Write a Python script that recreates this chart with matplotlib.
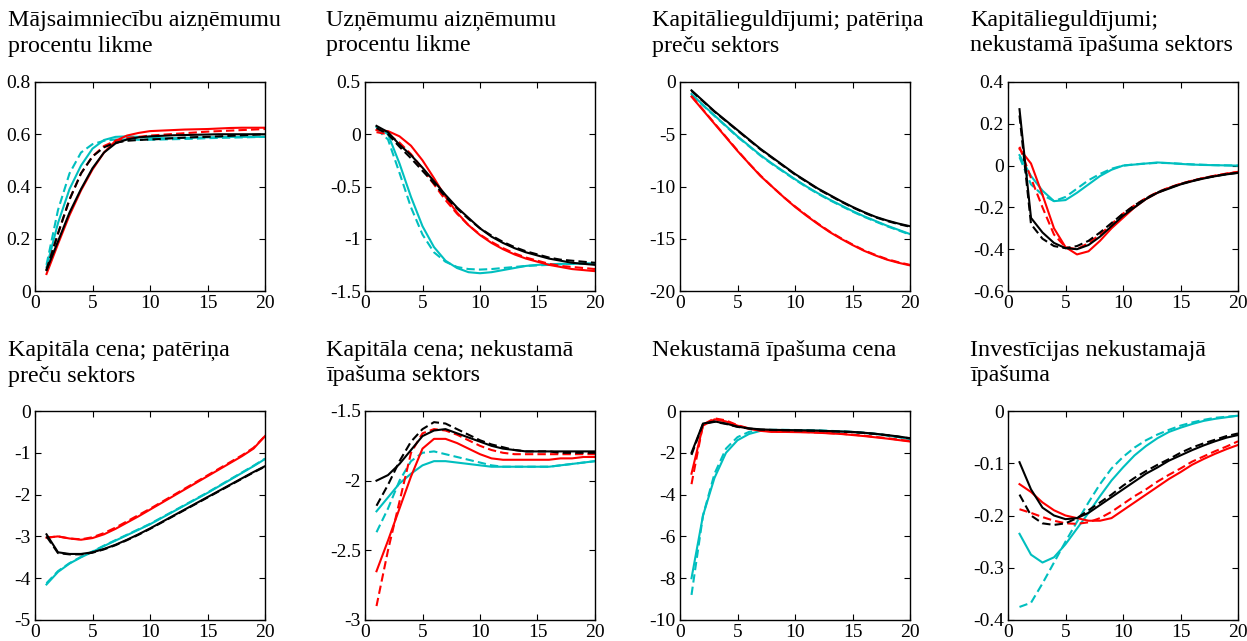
import matplotlib

matplotlib.use("Agg")
import matplotlib.pyplot as plt  # noqa: E402

plt.rcParams["font.family"] = ["Liberation Serif", "DejaVu Serif"]

X = list(range(1, 21))

TITLES = [
    "Mājsaimniecību aizņēmumu\nprocentu likme",
    "Uzņēmumu aizņēmumu\nprocentu likme",
    "Kapitālieguldījumi; patēriņa\npreču sektors",
    "Kapitālieguldījumi;\nnekustamā īpašuma sektors",
    "Kapitāla cena; patēriņa\npreču sektors",
    "Kapitāla cena; nekustamā\nīpašuma sektors",
    "Nekustamā īpašuma cena",
    "Investīcijas nekustamajā\nīpašuma",
]

YLIMS = [(0, 0.8), (-1.5, 0.5), (-20, 0), (-0.6, 0.4),
         (-5, 0), (-3, -1.5), (-10, 0), (-0.4, 0)]
YTICKS = [
    [0, 0.2, 0.4, 0.6, 0.8],
    [-1.5, -1, -0.5, 0, 0.5],
    [-20, -15, -10, -5, 0],
    [-0.6, -0.4, -0.2, 0, 0.2, 0.4],
    [-5, -4, -3, -2, -1, 0],
    [-3, -2.5, -2, -1.5],
    [-10, -8, -6, -4, -2, 0],
    [-0.4, -0.3, -0.2, -0.1, 0],
]
YTICKLABELS = [
    ["0", "0.2", "0.4", "0.6", "0.8"],
    ["-1.5", "-1", "-0.5", "0", "0.5"],
    ["-20", "-15", "-10", "-5", "0"],
    ["-0.6", "-0.4", "-0.2", "0", "0.2", "0.4"],
    ["-5", "-4", "-3", "-2", "-1", "0"],
    ["-3", "-2.5", "-2", "-1.5"],
    ["-10", "-8", "-6", "-4", "-2", "0"],
    ["-0.4", "-0.3", "-0.2", "-0.1", "0"],
]

# panel 1: household lending rate
p1_black = [0.08, 0.19, 0.30, 0.39, 0.47, 0.53, 0.565, 0.58, 0.588, 0.592,
            0.594, 0.596, 0.597, 0.598, 0.599, 0.60, 0.60, 0.60, 0.60, 0.60]
p1_black_d = [0.08, 0.22, 0.35, 0.45, 0.515, 0.55, 0.568, 0.575, 0.578, 0.58,
              0.582, 0.585, 0.587, 0.589, 0.59, 0.592, 0.594, 0.596, 0.598, 0.60]
p1_red = [0.065, 0.18, 0.29, 0.385, 0.465, 0.53, 0.575, 0.595, 0.605, 0.612,
          0.614, 0.616, 0.618, 0.619, 0.62, 0.622, 0.624, 0.625, 0.625, 0.625]
p1_red_d = [0.08, 0.22, 0.35, 0.45, 0.515, 0.555, 0.575, 0.585, 0.59, 0.595,
            0.598, 0.601, 0.604, 0.607, 0.61, 0.612, 0.614, 0.616, 0.618, 0.62]
p1_cyan = [0.09, 0.26, 0.39, 0.48, 0.545, 0.578, 0.59, 0.592, 0.59, 0.586,
           0.585, 0.585, 0.586, 0.587, 0.588, 0.589, 0.59, 0.59, 0.59, 0.59]
p1_cyan_d = [0.1, 0.31, 0.45, 0.53, 0.562, 0.575, 0.58, 0.58, 0.579, 0.579,
             0.58, 0.581, 0.582, 0.583, 0.585, 0.586, 0.587, 0.588, 0.589, 0.59]

# panel 2: corporate lending rate
p2_black = [0.08, 0.02, -0.1, -0.2, -0.32, -0.45, -0.58, -0.7, -0.8, -0.9,
            -0.98, -1.04, -1.09, -1.13, -1.16, -1.19, -1.21, -1.23, -1.24, -1.25]
p2_black_d = [0.06, 0.0, -0.12, -0.23, -0.35, -0.47, -0.6, -0.71, -0.81, -0.9,
              -0.97, -1.03, -1.08, -1.12, -1.15, -1.18, -1.2, -1.21, -1.22, -1.23]
p2_red = [0.04, 0.03, -0.02, -0.11, -0.25, -0.42, -0.6, -0.75, -0.87, -0.965,
          -1.04, -1.1, -1.15, -1.19, -1.22, -1.25, -1.27, -1.29, -1.3, -1.31]
p2_red_d = [0.02, 0.0, -0.08, -0.19, -0.33, -0.48, -0.63, -0.76, -0.87, -0.96,
            -1.03, -1.09, -1.14, -1.18, -1.21, -1.24, -1.26, -1.27, -1.28, -1.29]
p2_cyan = [0.07, 0.0, -0.28, -0.6, -0.88, -1.08, -1.21, -1.28, -1.32, -1.33,
           -1.32, -1.3, -1.28, -1.26, -1.25, -1.245, -1.24, -1.24, -1.235, -1.235]
p2_cyan_d = [0.05, -0.05, -0.37, -0.7, -0.96, -1.13, -1.22, -1.27, -1.29, -1.295,
             -1.29, -1.28, -1.27, -1.26, -1.255, -1.25, -1.245, -1.24, -1.24, -1.24]

# panel 3: investment, consumption goods sector
p3_black = [-0.8, -1.8, -2.8, -3.7, -4.6, -5.5, -6.4, -7.2, -8.0, -8.8,
            -9.5, -10.2, -10.8, -11.4, -11.95, -12.45, -12.9, -13.25, -13.55, -13.8]
p3_black_d = [-0.85, -1.85, -2.85, -3.75, -4.65, -5.55, -6.45, -7.25, -8.05, -8.85,
              -9.55, -10.25, -10.85, -11.45, -12.0, -12.5, -12.95, -13.3, -13.6, -13.85]
p3_red = [-1.4, -2.7, -4.0, -5.3, -6.6, -7.8, -9.0, -10.0, -11.0, -11.95,
          -12.8, -13.6, -14.35, -15.0, -15.6, -16.15, -16.6, -17.0, -17.3, -17.55]
p3_red_d = [-1.35, -2.65, -3.95, -5.25, -6.55, -7.8, -8.95, -10.0, -11.0, -11.9,
            -12.75, -13.55, -14.3, -14.95, -15.55, -16.1, -16.55, -16.95, -17.25, -17.5]
p3_cyan = [-1.15, -2.2, -3.2, -4.2, -5.2, -6.1, -7.0, -7.8, -8.55, -9.3,
           -10.0, -10.65, -11.25, -11.8, -12.35, -12.85, -13.3, -13.75, -14.15, -14.55]
p3_cyan_d = [-1.2, -2.25, -3.25, -4.25, -5.25, -6.15, -7.05, -7.85, -8.6, -9.35,
             -10.05, -10.7, -11.3, -11.85, -12.4, -12.9, -13.35, -13.8, -14.2, -14.6]

# panel 4: investment, housing sector
p4_black = [0.27, -0.25, -0.32, -0.37, -0.395, -0.4, -0.38, -0.34, -0.29, -0.24,
            -0.2, -0.16, -0.13, -0.11, -0.09, -0.075, -0.062, -0.051, -0.042, -0.035]
p4_black_d = [0.24, -0.28, -0.35, -0.385, -0.395, -0.385, -0.36, -0.32, -0.275, -0.23,
              -0.19, -0.157, -0.128, -0.107, -0.088, -0.073, -0.06, -0.05, -0.041, -0.034]
p4_red = [0.08, 0.01, -0.14, -0.3, -0.39, -0.425, -0.41, -0.36, -0.3, -0.25,
          -0.2, -0.16, -0.13, -0.107, -0.088, -0.073, -0.06, -0.049, -0.039, -0.03]
p4_red_d = [0.09, -0.06, -0.2, -0.33, -0.39, -0.4, -0.37, -0.33, -0.28, -0.23,
            -0.19, -0.155, -0.127, -0.105, -0.087, -0.072, -0.059, -0.048, -0.038, -0.03]
p4_cyan = [0.05, -0.05, -0.12, -0.17, -0.165, -0.13, -0.09, -0.05, -0.02, 0.0,
           0.005, 0.01, 0.015, 0.012, 0.008, 0.005, 0.003, 0.002, 0.001, 0.0]
p4_cyan_d = [0.04, -0.09, -0.14, -0.17, -0.15, -0.11, -0.07, -0.04, -0.015, 0.0,
             0.006, 0.01, 0.013, 0.012, 0.009, 0.006, 0.004, 0.002, 0.001, 0.0]

# panel 5: price of capital, consumption goods sector
p5_black = [-2.95, -3.38, -3.42, -3.42, -3.38, -3.3, -3.2, -3.08, -2.95, -2.81,
            -2.66, -2.51, -2.36, -2.21, -2.06, -1.91, -1.76, -1.61, -1.46, -1.32]
p5_black_d = [-3.0, -3.4, -3.43, -3.43, -3.39, -3.31, -3.21, -3.09, -2.96, -2.82,
              -2.67, -2.52, -2.37, -2.22, -2.07, -1.92, -1.77, -1.62, -1.47, -1.33]
p5_red = [-3.03, -3.0, -3.05, -3.08, -3.04, -2.95, -2.82, -2.67, -2.52, -2.36,
          -2.2, -2.04, -1.88, -1.72, -1.56, -1.4, -1.24, -1.08, -0.9, -0.6]
p5_red_d = [-3.03, -3.0, -3.05, -3.07, -3.02, -2.92, -2.79, -2.64, -2.49, -2.34,
            -2.18, -2.02, -1.86, -1.7, -1.54, -1.38, -1.22, -1.06, -0.88, -0.6]
p5_cyan = [-4.15, -3.85, -3.65, -3.5, -3.37, -3.23, -3.1, -2.97, -2.84, -2.71,
           -2.56, -2.41, -2.26, -2.11, -1.96, -1.8, -1.64, -1.48, -1.32, -1.15]
p5_cyan_d = [-4.12, -3.83, -3.64, -3.49, -3.36, -3.22, -3.09, -2.96, -2.83, -2.7,
             -2.55, -2.4, -2.25, -2.1, -1.95, -1.79, -1.63, -1.47, -1.31, -1.14]

# panel 6: price of capital, housing sector
p6_black = [-2.0, -1.96, -1.88, -1.78, -1.68, -1.64, -1.63, -1.66, -1.69, -1.72,
            -1.75, -1.77, -1.78, -1.79, -1.79, -1.79, -1.79, -1.79, -1.79, -1.79]
p6_black_d = [-2.18, -2.03, -1.86, -1.72, -1.63, -1.58, -1.59, -1.63, -1.67, -1.71,
              -1.74, -1.76, -1.78, -1.79, -1.79, -1.79, -1.8, -1.8, -1.8, -1.8]
p6_red = [-2.65, -2.43, -2.2, -1.97, -1.77, -1.7, -1.7, -1.73, -1.77, -1.81,
          -1.84, -1.85, -1.85, -1.85, -1.85, -1.85, -1.84, -1.84, -1.83, -1.83]
p6_red_d = [-2.9, -2.5, -2.15, -1.8, -1.66, -1.63, -1.64, -1.67, -1.71, -1.75,
            -1.78, -1.8, -1.81, -1.81, -1.81, -1.81, -1.81, -1.81, -1.81, -1.81]
p6_cyan = [-2.22, -2.12, -2.02, -1.95, -1.89, -1.86, -1.86, -1.87, -1.88, -1.89,
           -1.9, -1.9, -1.9, -1.9, -1.9, -1.9, -1.89, -1.88, -1.87, -1.86]
p6_cyan_d = [-2.37, -2.2, -2.0, -1.86, -1.8, -1.79, -1.81, -1.83, -1.85, -1.87,
             -1.89, -1.9, -1.9, -1.9, -1.9, -1.9, -1.89, -1.88, -1.87, -1.86]

# panel 7: house price
p7_black = [-2.0, -0.6, -0.5, -0.6, -0.75, -0.83, -0.88, -0.9, -0.91, -0.92,
            -0.93, -0.94, -0.96, -0.98, -1.0, -1.04, -1.09, -1.15, -1.22, -1.3]
p7_black_d = [-2.1, -0.62, -0.52, -0.62, -0.76, -0.84, -0.89, -0.91, -0.92, -0.93,
              -0.94, -0.95, -0.97, -0.99, -1.01, -1.05, -1.1, -1.16, -1.23, -1.31]
p7_red = [-3.0, -0.7, -0.4, -0.5, -0.7, -0.85, -0.95, -1.0, -1.0, -1.01,
          -1.02, -1.04, -1.07, -1.1, -1.15, -1.2, -1.26, -1.32, -1.39, -1.46]
p7_red_d = [-3.5, -0.65, -0.35, -0.45, -0.68, -0.83, -0.93, -0.98, -0.99, -1.0,
            -1.01, -1.03, -1.06, -1.09, -1.13, -1.18, -1.24, -1.3, -1.37, -1.44]
p7_cyan = [-8.0, -5.0, -3.2, -2.0, -1.4, -1.1, -0.95, -0.92, -0.92, -0.92,
           -0.93, -0.94, -0.96, -0.98, -1.01, -1.05, -1.1, -1.17, -1.25, -1.35]
p7_cyan_d = [-8.8, -5.0, -3.0, -1.8, -1.25, -1.0, -0.92, -0.9, -0.9, -0.91,
             -0.92, -0.93, -0.95, -0.97, -1.0, -1.04, -1.09, -1.16, -1.24, -1.34]

# panel 8: housing investment
p8_black = [-0.098, -0.15, -0.185, -0.2, -0.207, -0.205, -0.195, -0.18, -0.165, -0.15,
            -0.135, -0.12, -0.108, -0.095, -0.085, -0.075, -0.066, -0.058, -0.051, -0.046]
p8_black_d = [-0.16, -0.2, -0.215, -0.218, -0.215, -0.205, -0.19, -0.175, -0.16, -0.143,
              -0.128, -0.115, -0.103, -0.092, -0.08, -0.07, -0.062, -0.055, -0.048, -0.043]
p8_red = [-0.14, -0.155, -0.175, -0.19, -0.2, -0.205, -0.21, -0.21, -0.205, -0.19,
          -0.175, -0.16, -0.145, -0.13, -0.117, -0.103, -0.092, -0.082, -0.073, -0.065]
p8_red_d = [-0.188, -0.195, -0.203, -0.21, -0.215, -0.216, -0.213, -0.205, -0.193, -0.178,
            -0.163, -0.15, -0.135, -0.122, -0.11, -0.097, -0.087, -0.077, -0.068, -0.058]
p8_cyan = [-0.235, -0.275, -0.29, -0.28, -0.255, -0.225, -0.195, -0.163, -0.133, -0.108,
           -0.085, -0.067, -0.052, -0.04, -0.032, -0.025, -0.019, -0.015, -0.012, -0.009]
p8_cyan_d = [-0.375, -0.367, -0.33, -0.29, -0.25, -0.212, -0.175, -0.14, -0.11, -0.088,
             -0.07, -0.056, -0.045, -0.036, -0.028, -0.022, -0.017, -0.013, -0.011, -0.009]

PANELS = [
    (p1_black, p1_black_d, p1_red, p1_red_d, p1_cyan, p1_cyan_d),
    (p2_black, p2_black_d, p2_red, p2_red_d, p2_cyan, p2_cyan_d),
    (p3_black, p3_black_d, p3_red, p3_red_d, p3_cyan, p3_cyan_d),
    (p4_black, p4_black_d, p4_red, p4_red_d, p4_cyan, p4_cyan_d),
    (p5_black, p5_black_d, p5_red, p5_red_d, p5_cyan, p5_cyan_d),
    (p6_black, p6_black_d, p6_red, p6_red_d, p6_cyan, p6_cyan_d),
    (p7_black, p7_black_d, p7_red, p7_red_d, p7_cyan, p7_cyan_d),
    (p8_black, p8_black_d, p8_red, p8_red_d, p8_cyan, p8_cyan_d),
]

STYLES = [("black", "-"), ("black", "--"), ("red", "-"), ("red", "--"),
          ("#00bfbf", "-"), ("#00bfbf", "--")]

W, H = 1247, 641
# axes boxes in pixels: left, top, width, height
AX_LEFT = [35, 365, 680, 1008]
AX_TOP = [82, 411]
AX_W, AX_H = 230, 209
TITLE_X = [8, 326, 652, 970]
TITLE_Y = [10, 340]

fig = plt.figure(figsize=(W / 100, H / 100), dpi=100)

for i, series in enumerate(PANELS):
    row, col = divmod(i, 4)
    l = AX_LEFT[col] / W
    b = 1 - (AX_TOP[row] + AX_H) / H
    ax = fig.add_axes([l, b, AX_W / W, AX_H / H])
    # draw order: cyan, red, black so black sits on top
    for idx in (4, 5, 2, 3, 0, 1):
        color, ls = STYLES[idx]
        ax.plot(X, series[idx], color=color, linestyle=ls, linewidth=1.5,
                dashes=(4, 2) if ls == "--" else (None, None))
    ax.set_xlim(0, 20)
    ax.set_ylim(*YLIMS[i])
    ax.set_xticks([0, 5, 10, 15, 20])
    ax.set_yticks(YTICKS[i])
    ax.set_yticklabels(YTICKLABELS[i])
    ax.tick_params(direction="in", top=True, right=True, labelsize=14,
                   length=4, width=0.8, pad=3)
    for sp in ax.spines.values():
        sp.set_linewidth(1.0)
    fig.text(TITLE_X[col] / W, 1 - TITLE_Y[row] / H, TITLES[i],
             ha="left", va="top", fontsize=17.3, linespacing=1.28)

fig.savefig("out.png", dpi=100)
